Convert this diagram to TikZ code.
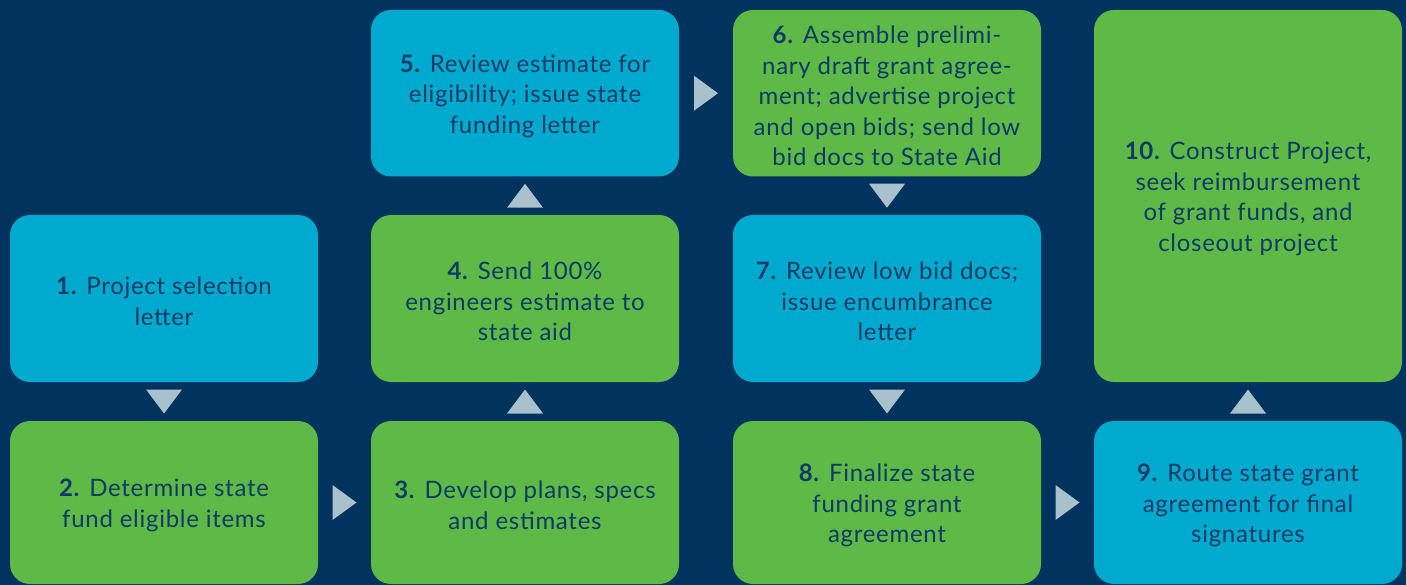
\documentclass[tikz,border=0pt]{standalone}
\usepackage{fontspec}
\setmainfont{Lato}[LetterSpace=3]
\usetikzlibrary{calc}
\definecolor{bg}{HTML}{00335D}
\definecolor{boxblue}{HTML}{00AACE}
\definecolor{boxgreen}{HTML}{5EB947}
\definecolor{trigrey}{HTML}{A8C1CC}
\definecolor{txt}{HTML}{0E3A66}
\begin{document}
\begin{tikzpicture}[x=1pt,y=-1pt,
  box/.style={rectangle, rounded corners=20pt, minimum width=308pt, inner sep=0pt},
  lbl/.style={text=txt, align=center, inner sep=0pt, yshift=-3pt, font=\fontsize{24}{30.5}\selectfont},
  bluebox/.style={box, fill=boxblue},
  greenbox/.style={box, fill=boxgreen},
  toprow/.style={minimum height=166.5pt},
  midrow/.style={minimum height=167pt},
  botrow/.style={minimum height=163pt},
  tri/.style={fill=trigrey}]
\fill[bg] (0,0) rectangle (1406,585);
\useasboundingbox (0,0) rectangle (1406,585);

\node[bluebox, midrow, label={[lbl]center:{\textbf{1.} Project selection\\letter}}] (b1) at (164,298.5) {};
\node[greenbox, botrow, label={[lbl]center:{\textbf{2.} Determine state\\fund eligible items}}] (b2) at (164,502.5) {};
\node[greenbox, botrow, label={[lbl]center:{\textbf{3.} Develop plans, specs\\and estimates}}] (b3) at (525,502.5) {};
\node[greenbox, midrow, label={[lbl]center:{\textbf{4.} Send 100\%\\engineers estimate to\\state aid}}] (b4) at (525,298.5) {};
\node[bluebox, toprow, label={[lbl]center:{\textbf{5.} Review estimate for\\eligibility; issue state\\funding letter}}] (b5) at (525,93.25) {};
\node[greenbox, toprow, label={[lbl]center:{\textbf{6.} Assemble prelimi-\\nary draft grant agree-\\ment; advertise project\\and open bids; send low\\bid docs to State Aid}}] (b6) at (887,93.25) {};
\node[bluebox, midrow, label={[lbl]center:{\textbf{7.} Review low bid docs;\\issue encumbrance\\letter}}] (b7) at (887,298.5) {};
\node[greenbox, botrow, label={[lbl]center:{\textbf{8.} Finalize state\\funding grant\\agreement}}] (b8) at (887,502.5) {};
\node[bluebox, botrow, label={[lbl]center:{\textbf{9.} Route state grant\\agreement for final\\signatures}}] (b9) at (1248,502.5) {};
\node[greenbox, minimum height=372pt, label={[lbl]center:{\textbf{10.} Construct Project,\\seek reimbursement\\of grant funds, and\\closeout project}}] (b10) at (1248,196) {};

% down arrows
\coordinate (m12) at ($(b1.south)!0.5!(b2.north)$);
\fill[tri] (m12) +(-18,-12) -- +(18,-12) -- +(0,12) -- cycle;
\coordinate (m67) at ($(b6.south)!0.5!(b7.north)$);
\fill[tri] (m67) +(-18,-12) -- +(18,-12) -- +(0,12) -- cycle;
\coordinate (m78) at ($(b7.south)!0.5!(b8.north)$);
\fill[tri] (m78) +(-18,-12) -- +(18,-12) -- +(0,12) -- cycle;
% up arrows
\coordinate (m34) at ($(b3.north)!0.5!(b4.south)$);
\fill[tri] (m34) +(-18,12) -- +(18,12) -- +(0,-12) -- cycle;
\coordinate (m45) at ($(b4.north)!0.5!(b5.south)$);
\fill[tri] (m45) +(-18,12) -- +(18,12) -- +(0,-12) -- cycle;
\coordinate (m910) at ($(b9.north)!0.5!(b10.south)$);
\fill[tri] (m910) +(-18,12) -- +(18,12) -- +(0,-12) -- cycle;
% right arrows
\coordinate (m23) at ($(b2.east)!0.5!(b3.west)$);
\fill[tri] (m23) +(-12,-17.5) -- +(-12,17.5) -- +(12,0) -- cycle;
\coordinate (m56) at ($(b5.east)!0.5!(b6.west)$);
\fill[tri] (m56) +(-12,-17.5) -- +(-12,17.5) -- +(12,0) -- cycle;
\coordinate (m89) at ($(b8.east)!0.5!(b9.west)$);
\fill[tri] (m89) +(-12,-17.5) -- +(-12,17.5) -- +(12,0) -- cycle;
\end{tikzpicture}
\end{document}
